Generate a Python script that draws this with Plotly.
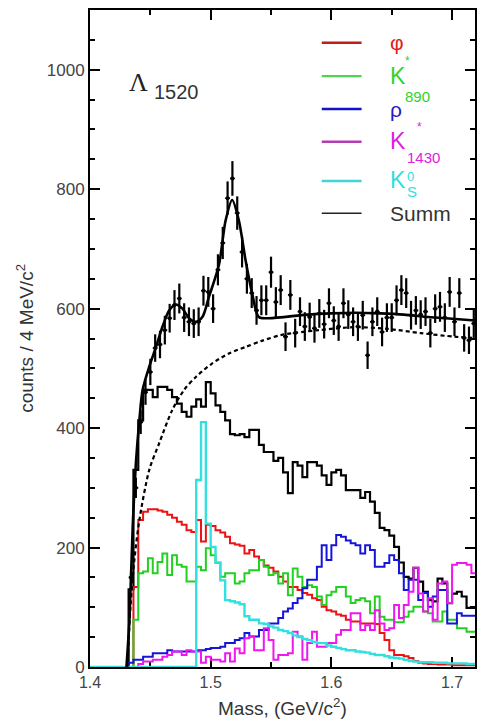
import numpy as np
import plotly.graph_objects as go

# ---------------- data ----------------
bin_lo = 1.400      # GeV/c^2, lower edge of first bin
bin_w = 0.004       # 4 MeV bins
n_bins = 80

summ = [0] * 8 + [130, 330, 413, 464, 464, 452, 469, 469, 464, 452, 441, 427, 419, 436, 448, 436,
                  477, 458, 438, 427, 413, 390, 388, 390, 385, 397, 397, 372, 360, 360, 345, 350,
                  326, 291, 343, 337, 318, 343, 343, 337, 321, 305, 326, 330, 321, 296, 296, 296,
                  283, 293, 277, 258, 233, 229, 220, 201, 175, 151, 148, 166, 143, 126, 112, 110,
                  148, 140, 107, 123, 126, 118, 99, 99]
phi = [0] * 9 + [134, 246, 260, 264, 264, 262, 260, 255, 250, 243, 238, 229, 226, 246, 210, 238,
                 236, 229, 225, 218, 207, 205, 203, 190, 196, 185, 179, 170, 166, 160, 151, 143,
                 134, 134, 129, 124, 121, 115, 112, 101, 95, 93, 88, 86, 79, 76, 76, 73, 73, 73,
                 72, 57, 45, 28, 20, 20, 18, 15, 10, 7, 6, 5, 5, 4, 4, 4, 3, 3, 3, 3, 3]
kst890 = [0] * 9 + [79, 157, 160, 182, 157, 176, 190, 154, 187, 171, 168, 143, 143, 168, 162, 199,
                    187, 174, 151, 157, 157, 140, 143, 157, 162, 162, 179, 168, 154, 157, 140, 157,
                    120, 165, 151, 134, 137, 134, 118, 104, 120, 126, 134, 134, 118, 107, 112, 115,
                    110, 90, 118, 84, 79, 79, 75, 75, 84, 93, 101, 101, 93, 90, 76, 76, 93, 79, 79,
                    65, 65, 59, 59]
rho = [0] * 8 + [7, 12, 12, 17, 17, 23, 23, 23, 28, 26, 26, 26, 26, 26, 28, 28, 30, 32, 32, 34,
                 40, 40, 45, 48, 57, 51, 51, 62, 62, 73, 73, 82, 93, 98, 107, 115, 132, 146, 146,
                 168, 204, 179, 204, 221, 218, 212, 207, 204, 190, 204, 196, 168, 168, 174, 187,
                 179, 157, 129, 146, 146, 112, 124, 101, 118, 129, 129, 73, 73, 90, 86, 86, 86]
kst1430 = [0] * 10 + [5, 9, 9, 12, 12, 17, 20, 26, 26, 20, 28, 26, 26, 7, 17, 12, 12, 9, 23, 9,
                      31, 23, 48, 51, 28, 28, 65, 45, 12, 20, 20, 23, 59, 51, 12, 40, 59, 34, 34,
                      40, 40, 54, 62, 62, 90, 90, 62, 70, 62, 95, 73, 62, 65, 104, 82, 104, 126,
                      166, 123, 93, 115, 79, 140, 143, 107, 171, 174, 174, 171, 157]
k0s = [0] * 22 + [313, 410, 240, 201, 175, 145, 112, 110, 108, 105, 85, 79, 79, 73, 72, 68, 66,
                  62, 60, 57, 53, 50, 47, 45, 42, 40, 40, 36, 34, 32, 30, 28, 28, 26, 25, 24, 22,
                  20, 20, 18, 16, 15, 14, 12, 10, 9, 8, 8, 8, 7, 7, 7, 6, 6, 6, 6, 5, 5]

data_first_bin = 8
data_counts = [150, 300, 410, 460, 494, 534, 540, 564, 584, 606, 617, 585, 578, 575, 578, 630,
               628, 600, 665, 710, 785, 818, 760, 695, 650, 626, 597, 614, 614, 661, 611, 631,
               553, 623, 559, 595, 570, 586, 567, 592, 574, 609, 580, 570, 609, 590, 578, 570,
               589, 522, 578, 595, 561, 585, 585, 614, 631, 626, 589, 597, 590, 595, 559, 600,
               603, 585, 628, 578, 626, 551, 547, 575]
data_err = [12, 17, 20, 21, 22, 23, 23, 24, 24, 25, 25, 24, 24, 24, 24, 25,
            25, 24, 26, 27, 28, 29, 28, 26, 25, 25, 24, 25, 25, 26, 25, 25,
            24, 25, 24, 24, 24, 24, 24, 24, 24, 25, 24, 24, 25, 24, 24, 24,
            24, 23, 24, 24, 24, 24, 24, 25, 25, 25, 24, 24, 24, 24, 24, 24,
            25, 24, 25, 24, 25, 23, 23, 24]

fit_mass = [1.4302, 1.4327, 1.4354, 1.4382, 1.4409, 1.4436, 1.4491, 1.4547, 1.4601, 1.4656,
            1.4711, 1.4766, 1.4821, 1.4876, 1.4931, 1.4986, 1.5068, 1.5124, 1.5178, 1.5233,
            1.5289, 1.5343, 1.5398, 1.548, 1.58, 1.60, 1.62, 1.64, 1.66, 1.68, 1.70, 1.72]
fit_counts = [0, 80, 235, 346, 413, 464, 503, 536, 570, 597,
              607, 600, 584, 578, 586, 620, 673, 748, 782, 748,
              681, 626, 586, 584, 590, 592, 593, 592, 590, 586, 583, 580]

bg_mass = [1.4310, 1.4335, 1.4368, 1.4409, 1.4491, 1.4574, 1.4681, 1.4780, 1.4879, 1.5011,
           1.5151, 1.5291, 1.5423, 1.5588, 1.5893, 1.6198, 1.6470, 1.6742, 1.7022, 1.7190]
bg_counts = [0, 100, 180, 246, 330, 375, 430, 464, 486, 508,
             525, 536, 546, 556, 564, 569, 566, 559, 553, 551]

x_range = [1.4, 1.7190]
y_range = [0, 1100]

for arr in (summ, phi, kst890, rho, kst1430, k0s):
    if len(arr) != n_bins:
        raise ValueError("bad length %d" % len(arr))

# ---------------- figure ----------------
edges = bin_lo + bin_w * np.arange(n_bins + 1)
centers = bin_lo + bin_w * (np.arange(n_bins) + 0.5)

FONT = "Liberation Sans, Arial, sans-serif"

fig = go.Figure()


def step_trace(vals, color, name, width=2.0):
    yv = list(vals) + [vals[-1]]
    fig.add_trace(go.Scatter(x=edges, y=yv, mode="lines", line=dict(color=color, width=width, shape="hv"),
                             name=name, showlegend=False, hoverinfo="skip"))


step_trace(summ, "#000000", "Summ", 2.2)
step_trace(phi, "#ee1111", "phi")
step_trace(kst890, "#22d022", "K*890")
step_trace(rho, "#1515d8", "rho")
step_trace(kst1430, "#ee18ee", "K*1430")
step_trace(k0s, "#33e0e0", "K0S", 2.4)

# background (dashed) and total fit
fig.add_trace(go.Scatter(x=bg_mass, y=bg_counts, mode="lines",
                         line=dict(color="black", width=2.2, dash="4px,3px", shape="spline", smoothing=0.8),
                         showlegend=False, hoverinfo="skip"))
fig.add_trace(go.Scatter(x=fit_mass, y=fit_counts, mode="lines",
                         line=dict(color="black", width=2.6, shape="spline", smoothing=0.8),
                         showlegend=False, hoverinfo="skip"))

# data points with error bars
dx = centers[data_first_bin:data_first_bin + len(data_counts)]
fig.add_trace(go.Scatter(x=dx, y=data_counts, mode="markers",
                         marker=dict(color="black", size=4),
                         error_y=dict(type="data", array=data_err, color="black", thickness=2.2, width=0),
                         error_x=dict(type="constant", value=bin_w / 2, color="black", thickness=1.6, width=0),
                         showlegend=False, hoverinfo="skip"))

# ---------------- legend (drawn) ----------------
leg_items = [
    ("#c21c1c", 0.9502, 2.6),
    ("#4ed44e", 0.8995, 2.2),
    ("#1212cc", 0.8493, 2.6),
    ("#b23cb2", 0.7995, 2.6),
    ("#44d4d4", 0.7397, 2.6),
    ("#222222", 0.6906, 1.4),
]
for col, yy, w in leg_items:
    fig.add_shape(type="line", xref="paper", yref="paper", x0=0.602, x1=0.7054, y0=yy, y1=yy,
                  line=dict(color=col, width=w))

ann = []


def txt(x, y, s, size, color, family=FONT, xanchor="left"):
    ann.append(dict(x=x, y=y, xref="paper", yref="paper", text=s, showarrow=False,
                    xanchor=xanchor, yanchor="middle", font=dict(size=size, color=color, family=family)))


txt(0.7752, 0.9498, "φ", 21, "#e02020")
txt(0.7752, 0.8995, "K", 23, "#2ed42e")
txt(0.812, 0.9220, "*", 12, "#2ed42e")
txt(0.812, 0.8691, "890", 15, "#2ed42e")
txt(0.7752, 0.8478, "ρ", 21, "#2020c0")
txt(0.7752, 0.8006, "K", 23, "#e020e0")
txt(0.843, 0.8219, "*", 12, "#e020e0")
txt(0.819, 0.7750, "1430", 15, "#e020e0")
txt(0.7752, 0.7412, "K", 23, "#30dede")
txt(0.819, 0.7470, "0", 13, "#30dede")
txt(0.819, 0.7240, "S", 15, "#30dede")
txt(0.7752, 0.6895, "Summ", 21, "#333333")

# Lambda label
txt(0.126, 0.8900, "Λ", 26, "#222222", family="Liberation Serif, Times New Roman, serif", xanchor="center")
txt(0.1610, 0.8752, "1520", 20, "#333333")

# axis titles
ann.append(dict(x=-0.1705, y=0.5, xref="paper", yref="paper", text="counts / 4 MeV/c<sup>2</sup>",
                showarrow=False, textangle=-90, xanchor="center", yanchor="middle",
                font=dict(size=19, color="#333333", family=FONT)))
ann.append(dict(x=0.5, y=-0.0609, xref="paper", yref="paper", text="Mass, (GeV/c<sup>2</sup>)",
                showarrow=False, xanchor="center", yanchor="middle",
                font=dict(size=19, color="#333333", family=FONT)))

fig.update_layout(
    width=477, height=723,
    margin=dict(l=90, r=0, t=10, b=56),
    paper_bgcolor="white", plot_bgcolor="white",
    annotations=ann,
    showlegend=False,
    xaxis=dict(range=x_range, showgrid=False, zeroline=False, showline=True, linecolor="black", linewidth=2,
               mirror="ticks", ticks="inside", ticklen=10, tickwidth=2, tickcolor="black",
               tickvals=[1.4, 1.5, 1.6, 1.7], ticktext=["1.4", "1.5", "1.6", "1.7"],
               minor=dict(dtick=0.05, tick0=1.4, ticks="inside", ticklen=5, tickwidth=2, tickcolor="black",
                          showgrid=False),
               tickfont=dict(size=16, color="#444444", family=FONT), layer="below traces"),
    yaxis=dict(range=y_range, showgrid=False, zeroline=False, showline=True, linecolor="black", linewidth=2,
               mirror="ticks", ticks="inside", ticklen=10, tickwidth=2, tickcolor="black",
               tickvals=[0, 200, 400, 600, 800, 1000],
               minor=dict(dtick=50, tick0=0, ticks="inside", ticklen=5, tickwidth=2, tickcolor="black",
                          showgrid=False),
               tickfont=dict(size=17, color="#444444", family=FONT), layer="below traces"),
)

fig.write_html("out.html")
